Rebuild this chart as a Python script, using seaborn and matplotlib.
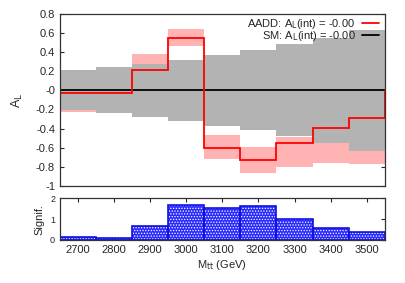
import numpy as np
import pandas as pd
import matplotlib
matplotlib.use("Agg")
import matplotlib.pyplot as plt
import seaborn as sns

# bin centres of M_tt (GeV), bins are 100 GeV wide
mtt = [2700, 2800, 2900, 3000, 3100, 3200, 3300, 3400, 3500]
bin_width = 100

# A_L for the AADD model and its uncertainty band
aadd = [-0.03, -0.03, 0.21, 0.55, -0.60, -0.73, -0.55, -0.39, -0.29]
aadd_lo = [-0.23, -0.22, 0.04, 0.46, -0.72, -0.86, -0.80, -0.76, -0.77]
aadd_hi = [0.17, 0.16, 0.38, 0.64, -0.47, -0.59, -0.49, -0.20, -0.10]

# SM A_L and its (symmetric) uncertainty
sm = [0, 0, 0, 0, 0, 0, 0, 0, 0]
sm_err = [0.21, 0.24, 0.28, 0.32, 0.37, 0.42, 0.48, 0.55, 0.63]

# significance per bin
signif = [0.13, 0.08, 0.67, 1.66, 1.51, 1.63, 1.00, 0.58, 0.38]

sns.set_style("white")
plt.rcParams["font.family"] = ["Liberation Sans", "DejaVu Sans"]
plt.rcParams["axes.unicode_minus"] = False
plt.rcParams["hatch.linewidth"] = 0.6

edges = [m - bin_width / 2 for m in mtt] + [mtt[-1] + bin_width / 2]
sm_arr = np.array(sm, dtype=float)
err = np.array(sm_err)
df = pd.DataFrame({"mtt": mtt, "signif": signif})

fig = plt.figure(figsize=(4.05, 2.83), dpi=100)
ax = fig.add_axes([0.148, 0.343, 0.802, 0.608])
ax2 = fig.add_axes([0.148, 0.152, 0.802, 0.148])

# top panel
ax.stairs(aadd_hi, edges, baseline=aadd_lo, fill=True, color="#ffb3b3", lw=0)
ax.stairs(sm_arr + err, edges, baseline=sm_arr - err, fill=True, color="#b3b3b3", lw=0)
ax.stairs(sm, edges, baseline=None, color="black", lw=1.3,
          label=r"SM: A$_\mathrm{L}$(int) = -0.00")
ax.stairs(aadd, edges, baseline=0, color="red", lw=1.3,
          label=r"AADD: A$_\mathrm{L}$(int) = -0.00")

ax.set_xlim(edges[0], edges[-1])
ax.set_ylim(-1, 0.8)
yt = np.round(np.arange(-1, 0.81, 0.2), 1)
ax.set_yticks(yt)
ax.set_yticklabels([f"{v:g}" for v in yt], fontsize=8)
ax.set_xticks([])
ax.tick_params(axis="y", direction="in", length=3, right=True, left=True, width=0.8)
ax.set_ylabel(r"A$_\mathrm{L}$", fontsize=9, labelpad=8)

handles, labels = ax.get_legend_handles_labels()
ax.legend(handles[::-1], labels[::-1], loc="upper right", frameon=False,
          markerfirst=False, fontsize=8, handlelength=1.5, handletextpad=0.6,
          labelspacing=-0.12, borderaxespad=0.0, bbox_to_anchor=(0.995, 1.01))

# bottom panel
sns.histplot(data=df, x="mtt", weights="signif", bins=edges, ax=ax2,
             color="#2a2aff", edgecolor="white", hatch="......", linewidth=0,
             alpha=1)
sns.histplot(data=df, x="mtt", weights="signif", bins=edges, ax=ax2,
             fill=False, color="#1010e0", linewidth=1.2)
ax2.set_xlim(edges[0], edges[-1])
ax2.set_ylim(0, 2)
ax2.set_yticks([0, 1, 2])
ax2.set_yticklabels(["0", "1", "2"], fontsize=6.5)
ax2.set_xticks(mtt)
ax2.set_xticklabels([str(v) for v in mtt], fontsize=8)
ax2.tick_params(direction="in", length=3, top=True, right=True, width=0.8)
ax2.set_ylabel("Signif.", fontsize=8, labelpad=4)
ax2.set_xlabel(r"M$_\mathrm{tt}$ (GeV)", fontsize=8, labelpad=2)

for a in (ax, ax2):
    for s in a.spines.values():
        s.set_color("#333333")
        s.set_linewidth(0.9)
        s.set_visible(True)

fig.savefig("out.png", dpi=100)
